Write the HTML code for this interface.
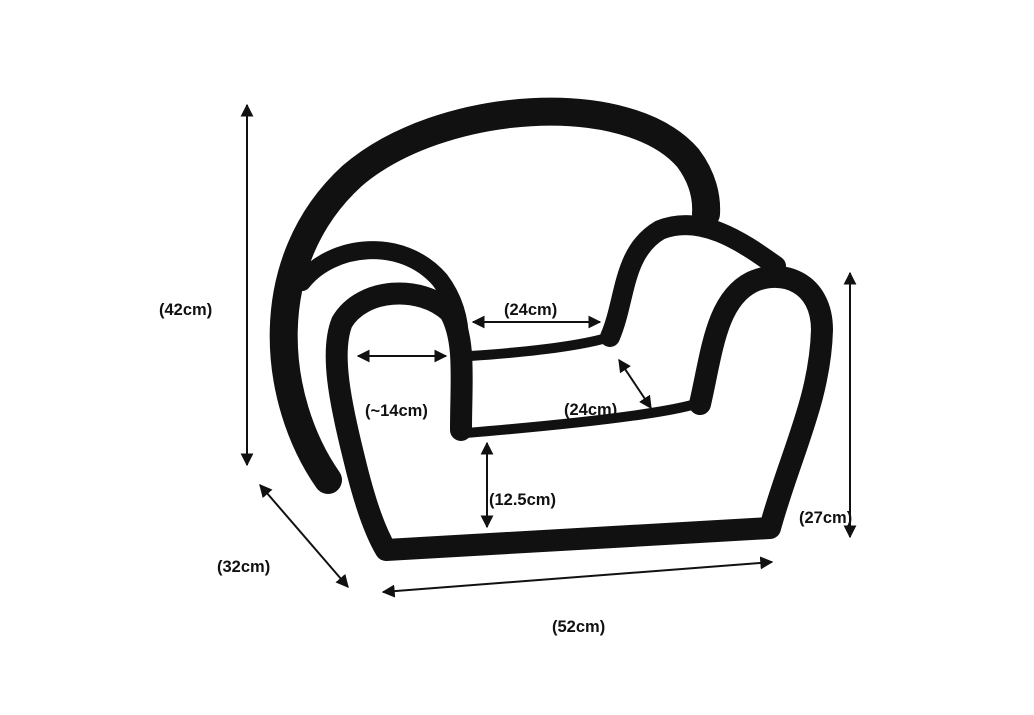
<!DOCTYPE html>
<html><head><meta charset="utf-8"><style>
html,body{margin:0;padding:0;background:#fff;}
svg{display:block;}
text{font-family:"Liberation Sans",Arial,sans-serif;font-weight:bold;font-size:16.5px;fill:#111;}
</style></head><body>
<svg width="1034" height="715" viewBox="0 0 1034 715" xmlns="http://www.w3.org/2000/svg">
<defs>
<marker id="a" viewBox="0 0 10 10" refX="9" refY="5" markerWidth="6.5" markerHeight="6.5" orient="auto-start-reverse">
<path d="M0,0 L10,5 L0,10 z" fill="#111"/></marker>
</defs>
<g fill="none" stroke="#111" stroke-linecap="round" stroke-linejoin="round">
<path d="M328 480 C 272 400, 258 262, 352 176 C 440 100, 628 88, 688 158 C 703 178, 707 198, 706 214" stroke-width="28"/>
<path d="M328 480 C 290 420, 285 360, 292 300" stroke-width="14"/>
<path d="M302 282 C 332 244, 402 236, 440 280 C 455 300, 460 322, 460 342" stroke-width="18"/>
<path d="M461 430 C 461 380, 466 340, 450 312 C 420 284, 362 288, 342 322 C 330 352, 340 402, 354 458 C 364 500, 374 530, 386 550 L 770 528 C 790 455, 820 400, 822 330 C 822 282, 782 268, 752 282 C 716 300, 712 352, 700 404" stroke-width="22"/>
<path d="M466 433 C 550 426, 650 416, 692 405" stroke-width="10"/>
<path d="M470 356 C 530 352, 580 346, 610 337" stroke-width="10"/>
<path d="M610 337 C 626 300, 622 252, 660 230 C 700 214, 740 240, 776 266" stroke-width="20"/>
</g>
<g stroke="#111" stroke-width="2" fill="none">
<line x1="247" y1="105" x2="247" y2="465" marker-start="url(#a)" marker-end="url(#a)"/>
<line x1="260" y1="485" x2="348" y2="587" marker-start="url(#a)" marker-end="url(#a)"/>
<line x1="383" y1="592" x2="772" y2="562" marker-start="url(#a)" marker-end="url(#a)"/>
<line x1="850" y1="273" x2="850" y2="537" marker-start="url(#a)" marker-end="url(#a)"/>
<line x1="487" y1="443" x2="487" y2="527" marker-start="url(#a)" marker-end="url(#a)"/>
<line x1="358" y1="356" x2="446" y2="356" marker-start="url(#a)" marker-end="url(#a)"/>
<line x1="473" y1="322" x2="600" y2="322" marker-start="url(#a)" marker-end="url(#a)"/>
<line x1="619" y1="360" x2="651" y2="408" marker-start="url(#a)" marker-end="url(#a)"/>
</g>
<text x="159" y="315">(42cm)</text>
<text x="217" y="572">(32cm)</text>
<text x="552" y="632">(52cm)</text>
<text x="799" y="523">(27cm)</text>
<text x="489" y="505">(12.5cm)</text>
<text x="365" y="416">(~14cm)</text>
<text x="504" y="315">(24cm)</text>
<text x="564" y="415">(24cm)</text>
</svg>
</body></html>
